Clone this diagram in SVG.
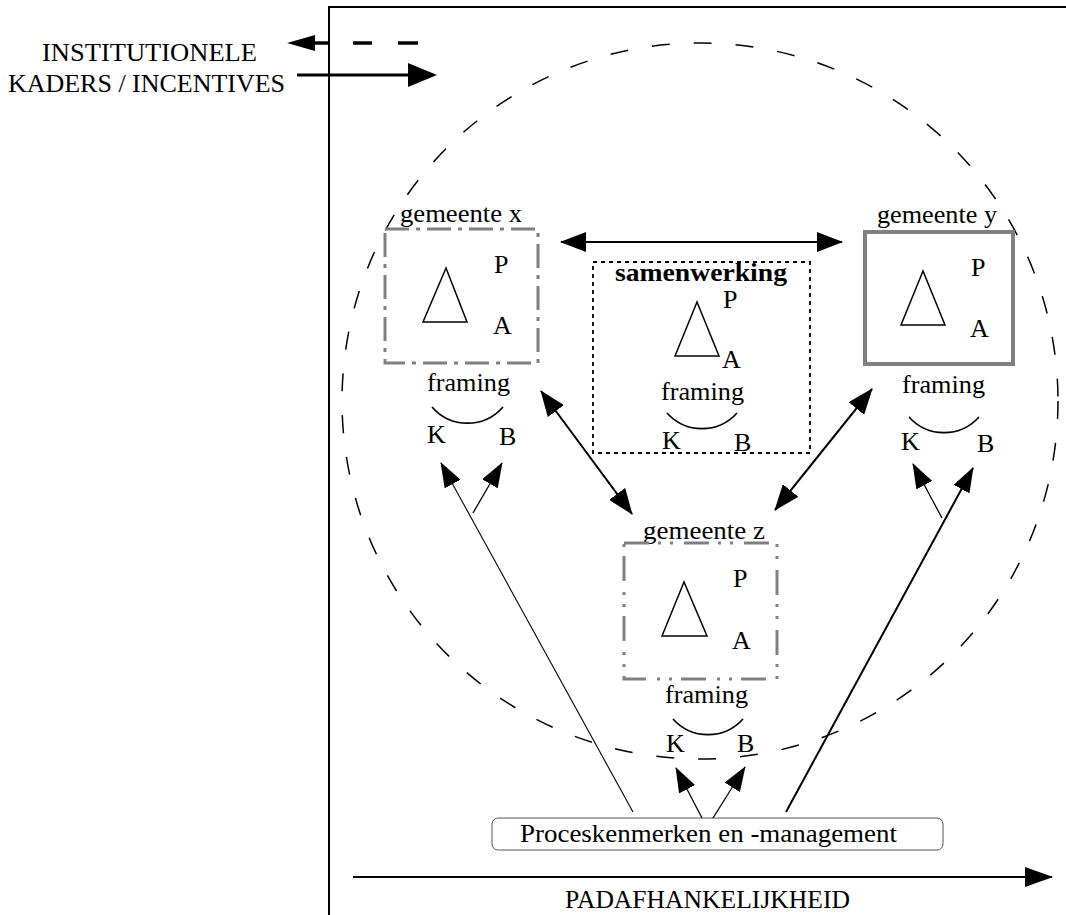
<svg xmlns="http://www.w3.org/2000/svg" width="1066" height="915" viewBox="0 0 1066 915">
<style>
text{font-family:"Liberation Serif","Times New Roman",serif;font-size:26px;fill:#000}
.b{font-weight:bold}
.ln{stroke:#000;fill:none}
.tri{fill:none;stroke:#000;stroke-width:1.5}
.arc{fill:none;stroke:#000;stroke-width:1.7}
.gx{fill:none;stroke:#808080;stroke-width:3;stroke-dasharray:24 7 4 7}
.gz{fill:none;stroke:#808080;stroke-width:3;stroke-dasharray:25 9 3 9 3 11}
.gy{fill:none;stroke:#808080;stroke-width:4}
</style>
<defs>
<marker id="ah" viewBox="0 0 26 20" refX="25" refY="10" markerWidth="26" markerHeight="20" markerUnits="userSpaceOnUse" orient="auto-start-reverse"><path d="M0,0 L26,10 L0,20 z" fill="#000"/></marker>
<marker id="as" viewBox="0 0 25 18" refX="24" refY="9" markerWidth="25" markerHeight="18" markerUnits="userSpaceOnUse" orient="auto"><path d="M0,0 L25,9 L0,18 z" fill="#000"/></marker>
<marker id="ab" viewBox="0 0 28 20" refX="27" refY="10" markerWidth="28" markerHeight="20" markerUnits="userSpaceOnUse" orient="auto"><path d="M0,0 L28,10 L0,20 z" fill="#000"/></marker>
</defs>
<rect width="1066" height="915" fill="#fff"/>
<g id="frame">
<line class="ln" x1="329" y1="7" x2="329" y2="915" stroke-width="2"/>
<line class="ln" x1="328" y1="7" x2="1066" y2="7" stroke-width="2"/>
</g>
<g id="institutionele">
<text x="42" y="61" textLength="215" lengthAdjust="spacingAndGlyphs" font-size="29">INSTITUTIONELE</text>
<text x="8" y="92" textLength="277" lengthAdjust="spacingAndGlyphs" font-size="28">KADERS / INCENTIVES</text>
<path d="M287,43 L315,35 L315,51 z" fill="#000"/>
<line class="ln" x1="312" y1="43" x2="330" y2="43" stroke-width="3.5"/>
<line class="ln" x1="353" y1="43" x2="372" y2="43" stroke-width="3.5"/>
<line class="ln" x1="398" y1="43" x2="418" y2="43" stroke-width="3.5"/>
<line class="ln" x1="297" y1="75" x2="411" y2="75" stroke-width="2.8"/>
<path d="M437,75 L408,63 L408,87 z" fill="#000"/>
</g>
<g id="circle">
<circle cx="700" cy="401" r="358" fill="none" stroke="#000" stroke-width="1.5" stroke-dasharray="18 24"/>
</g>
<g id="gemeente-x">
<text x="400" y="222" textLength="122" lengthAdjust="spacingAndGlyphs" font-size="27">gemeente x</text>
<rect class="gx" x="385" y="229" width="153" height="134"/>
<polygon class="tri" points="446,268 423,322 467,322"/>
<text x="494" y="273">P</text>
<text x="493" y="334">A</text>
<text x="427" y="391" textLength="83" lengthAdjust="spacingAndGlyphs" font-size="27">framing</text>
<path class="arc" d="M432,407 A47,47 0 0 0 503,407"/>
<text x="427" y="443">K</text>
<text x="499" y="445">B</text>
</g>
<g id="samenwerking">
<rect x="593" y="262" width="217" height="191" fill="none" stroke="#000" stroke-width="1.8" stroke-dasharray="4 4"/>
<text class="b" x="615" y="281" textLength="172" lengthAdjust="spacingAndGlyphs">samenwerking</text>
<polygon class="tri" points="697,302 675,356 719,356"/>
<text x="723" y="308">P</text>
<text x="722" y="368">A</text>
<text x="661" y="400" textLength="83" lengthAdjust="spacingAndGlyphs" font-size="27">framing</text>
<path class="arc" d="M667,413 A47,47 0 0 0 737,413"/>
<text x="662" y="449">K</text>
<text x="734" y="451">B</text>
</g>
<g id="gemeente-y">
<text x="877" y="223" textLength="120" lengthAdjust="spacingAndGlyphs" font-size="27">gemeente y</text>
<rect class="gy" x="865" y="232" width="148" height="132"/>
<polygon class="tri" points="923,271 901,325 945,325"/>
<text x="971" y="276">P</text>
<text x="970" y="337">A</text>
<text x="902" y="393" textLength="83" lengthAdjust="spacingAndGlyphs" font-size="27">framing</text>
<path class="arc" d="M909,417 A47,47 0 0 0 979,417"/>
<text x="901" y="450">K</text>
<text x="977" y="452">B</text>
</g>
<g id="gemeente-z">
<text x="643" y="539" textLength="122" lengthAdjust="spacingAndGlyphs" font-size="27">gemeente z</text>
<rect class="gz" x="624" y="543" width="153" height="136"/>
<polygon class="tri" points="684,582 662,636 707,636"/>
<text x="733" y="587">P</text>
<text x="732" y="649">A</text>
<text x="665" y="703" textLength="83" lengthAdjust="spacingAndGlyphs" font-size="27">framing</text>
<path class="arc" d="M673,719 A47,47 0 0 0 743,719"/>
<text x="666" y="752">K</text>
<text x="737" y="752">B</text>
</g>
<g id="proceskenmerken">
<rect x="492" y="818" width="451" height="32" rx="6" fill="none" stroke="#555" stroke-width="1"/>
<text x="520" y="842" textLength="377" lengthAdjust="spacingAndGlyphs" font-size="27">Proceskenmerken en -management</text>
</g>
<g id="padafhankelijkheid">
<text x="565" y="908" textLength="285" lengthAdjust="spacingAndGlyphs">PADAFHANKELIJKHEID</text>
</g>
<g id="connectors">
<line class="ln" x1="561" y1="242" x2="842" y2="242" stroke-width="2" marker-start="url(#ah)" marker-end="url(#ah)"/>
<line class="ln" x1="541" y1="391" x2="632" y2="514" stroke-width="2" marker-start="url(#ah)" marker-end="url(#ah)"/>
<line class="ln" x1="872" y1="389" x2="775" y2="510" stroke-width="2" marker-start="url(#ah)" marker-end="url(#ah)"/>
<line class="ln" x1="633" y1="812" x2="441" y2="463" stroke-width="1.1" marker-end="url(#as)"/>
<line class="ln" x1="473" y1="513" x2="502" y2="463" stroke-width="1.3" marker-end="url(#as)"/>
<line class="ln" x1="942" y1="518" x2="913" y2="464" stroke-width="1.3" marker-end="url(#as)"/>
<line class="ln" x1="786" y1="812" x2="973" y2="468" stroke-width="2" marker-end="url(#as)"/>
<line class="ln" x1="702" y1="818" x2="676" y2="768" stroke-width="1.3" marker-end="url(#as)"/>
<line class="ln" x1="713" y1="818" x2="745" y2="767" stroke-width="1.3" marker-end="url(#as)"/>
<line class="ln" x1="353" y1="877" x2="1052" y2="877" stroke-width="2" marker-end="url(#ab)"/>
</g>
</svg>
